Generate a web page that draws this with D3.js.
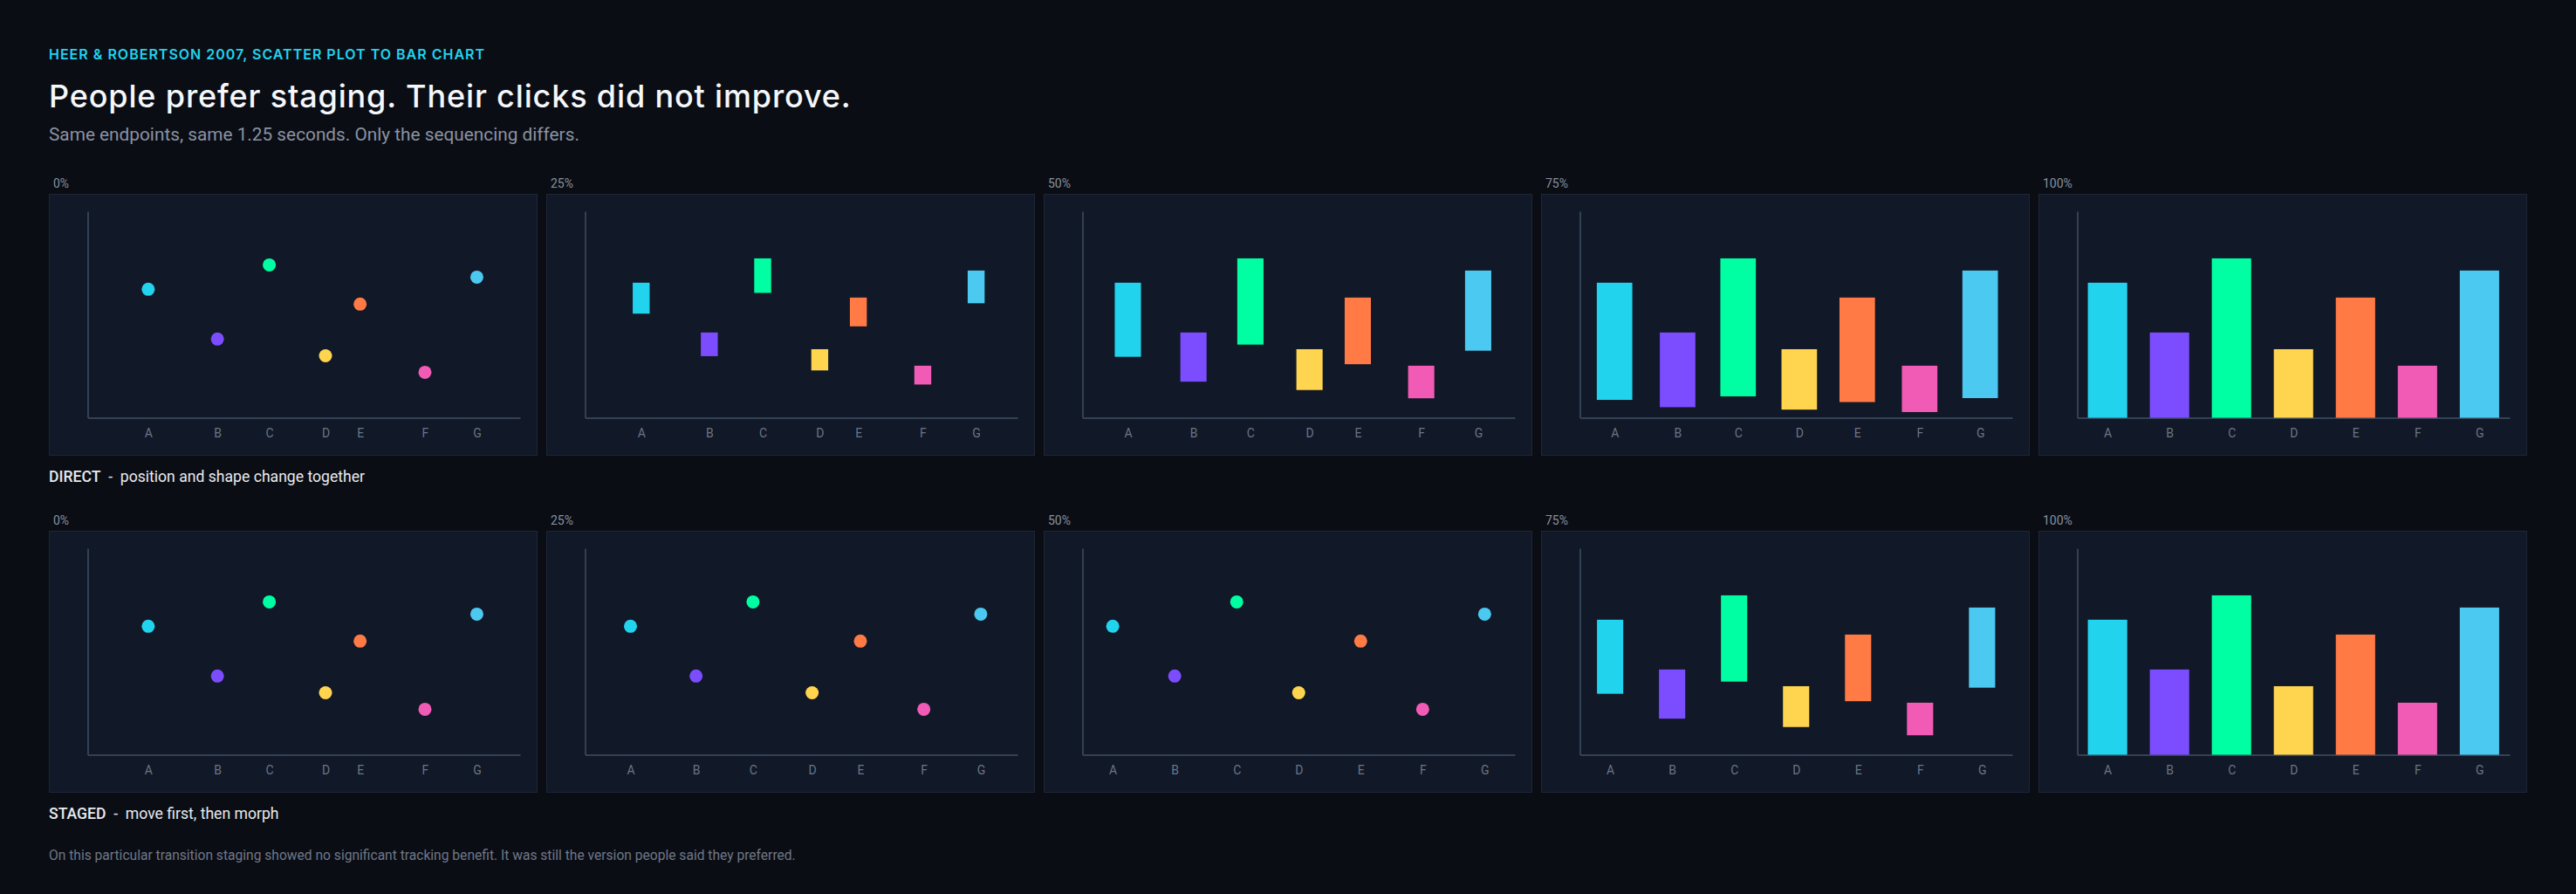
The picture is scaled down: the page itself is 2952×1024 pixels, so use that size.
<!DOCTYPE html>
<html>
<head>
<meta charset="utf-8">
<script src="https://cdn.jsdelivr.net/npm/d3@7"></script>
<style>
  html, body { margin:0; padding:0; background:#0a0d14; }
  svg { display:block; font-family:'Segoe UI', Roboto, 'Noto Sans', sans-serif; }
</style>
</head>
<body>
<svg id="chart" width="2952" height="1024"></svg>
<script>
/* ---------- data ---------- */
const categories = ['A','B','C','D','E','F','G'];
const colors     = ['#22d3ee','#7c4dff','#00ffa3','#ffd54f','#ff7a45','#f15bb5','#4cc9f0'];
const scatterX   = [14, 30, 42, 55, 63, 78, 90];          // scatter position (0-100)
const values     = [65.4, 41.3, 77.2, 33.2, 58.2, 25.2, 71.3]; // bar value (0-100)
const frames     = [0, 0.25, 0.5, 0.75, 1];
const frameLabels = ['0%','25%','50%','75%','100%'];
const modes = [
  { key:'direct', name:'DIRECT', note:'position and shape change together' },
  { key:'staged', name:'STAGED', note:'move first, then morph' }
];

/* ---------- layout ---------- */
const svg = d3.select('#chart');
const left = 56;
const panelW = 559, panelH = 299, panelGap = 11;
const rowTops = [222, 608];
const plot = { left:44.5, right:19, top:20, bottom:42.5 };
const W = panelW - plot.left - plot.right;
const H = panelH - plot.top - plot.bottom;
const R = 7.5;
const ease = d3.easeSinInOut;
const headFont = "Inter, 'Segoe UI', Roboto, sans-serif";

svg.append('text').attr('x', left).attr('y', 68)
  .style('font-family', headFont)
  .style('font-size','16px').style('font-weight',600).style('letter-spacing','1px')
  .style('fill','#22d3ee').text('HEER & ROBERTSON 2007, SCATTER PLOT TO BAR CHART');
svg.append('text').attr('x', left).attr('y', 123)
  .style('font-family', headFont)
  .style('font-size','36px').style('font-weight',500).style('letter-spacing','0.85px').style('fill','#f5f7fa')
  .text('People prefer staging. Their clicks did not improve.');
svg.append('text').attr('x', left).attr('y', 161)
  .style('font-size','20.8px').style('fill','#8a92a2')
  .text('Same endpoints, same 1.25 seconds. Only the sequencing differs.');
svg.append('text').attr('x', left).attr('y', 985)
  .style('font-size','15.6px').style('fill','#6f7787')
  .text('On this particular transition staging showed no significant tracking benefit. It was still the version people said they preferred.');

const xLin  = d3.scaleLinear().domain([0,100]).range([0, W]);
const xBand = d3.scaleBand().domain(categories).range([0, W]).paddingInner(0.365).paddingOuter(0.17);
const y     = d3.scaleLinear().domain([0,100]).range([H, 0]);
const bw = xBand.bandwidth();

function progress(mode, t){
  if (mode === 'direct') return { move: ease(t), shape: ease(t) };
  return { move: ease(Math.min(1, t/0.5)), shape: ease(Math.max(0, (t-0.5)/0.5)) };
}

modes.forEach((m, row) => {
  const top = rowTops[row];

  const cap = svg.append('text').attr('x', left).attr('y', top + panelH + 31)
    .style('font-size','17.6px').style('fill','#e8eaee');
  cap.append('tspan').style('font-weight',500).text(m.name);
  cap.append('tspan').text('\u00a0\u00a0-\u00a0\u00a0' + m.note);

  frames.forEach((t, col) => {
    const px = left + col*(panelW + panelGap);
    const g = svg.append('g').attr('transform', `translate(${px},${top})`);

    g.append('text').attr('x', 5).attr('y', -7)
      .style('font-size','14px').style('fill','#8891a0').text(frameLabels[col]);
    g.append('rect').attr('x',0.5).attr('y',0.5).attr('width',panelW).attr('height',panelH)
      .attr('fill','#111827').attr('stroke','#1e2636').attr('stroke-width',1);

    const p = progress(m.key, t);
    const items = categories.map((c, i) => {
      const cx = d3.interpolateNumber(xLin(scatterX[i]), xBand(c) + bw/2)(p.move);
      const w  = d3.interpolateNumber(2*R, bw)(p.shape);
      const yt = y(values[i]);
      const yb = d3.interpolateNumber(yt + 2*R, y(0))(p.shape);
      return { c, color: colors[i], cx, w, yt, yb, dot: p.shape === 0 };
    });

    const pg = g.append('g').attr('transform', `translate(${plot.left},${plot.top})`);

    const xAxis = d3.axisBottom(d3.scaleLinear().domain([0,W]).range([0,W]))
      .tickValues(items.map(d => d.cx))
      .tickFormat((d,i) => categories[i])
      .tickSize(0).tickPadding(13);
    const xg = pg.append('g').attr('transform', `translate(0,${H})`).call(xAxis);
    const yg = pg.append('g').call(d3.axisLeft(y).tickValues([]).tickSizeOuter(0));
    [xg, yg].forEach(a => {
      a.select('.domain').attr('stroke','#334155').attr('stroke-width',2);
      a.selectAll('text').style('font-size','14px').style('fill','#6b7588')
        .style('font-family',"'Segoe UI', Roboto, 'Noto Sans', sans-serif");
    });

    pg.selectAll('.mark').data(items).enter().each(function(d){
      const sel = d3.select(this);
      if (d.dot) {
        sel.append('circle').attr('class','mark')
          .attr('cx', d.cx).attr('cy', d.yt + R).attr('r', R).attr('fill', d.color);
      } else {
        sel.append('rect').attr('class','mark')
          .attr('x', d.cx - d.w/2).attr('y', d.yt)
          .attr('width', d.w).attr('height', d.yb - d.yt).attr('fill', d.color);
      }
    });
  });
});
</script>
</body>
</html>
